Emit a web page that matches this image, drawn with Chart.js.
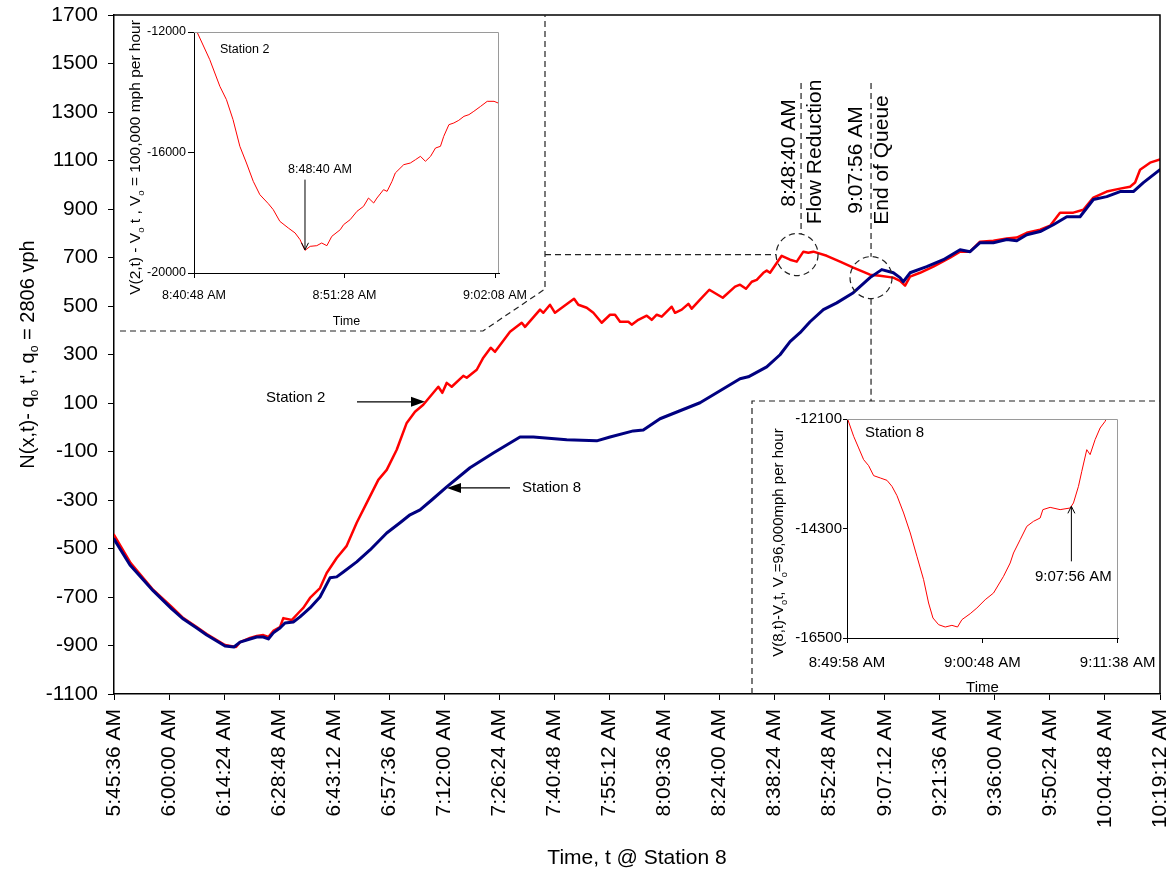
<!DOCTYPE html>
<html>
<head>
<meta charset="utf-8">
<title>Cumulative count curves, Station 2 and Station 8</title>
<script src="https://cdn.jsdelivr.net/npm/chart.js@4.4.1/dist/chart.umd.min.js"></script>
<style>
  html, body { margin: 0; padding: 0; background: #fff; }
  #wrap { position: relative; width: 1168px; height: 880px; }
  #wrap canvas { position: absolute; }
</style>
</head>
<body>
<div id="wrap">
  <canvas id="main"></canvas>
  <canvas id="inset2"></canvas>
  <canvas id="inset8"></canvas>
</div>
<script>
// ---------- main chart: N(x,t) - q0 t' against time at Station 8 ----------
const mainTickTimes = ['5:45:36', '6:00:00', '6:14:24', '6:28:48', '6:43:12', '6:57:36', '7:12:00',
  '7:26:24', '7:40:48', '7:55:12', '8:09:36', '8:24:00', '8:38:24', '8:52:48', '9:07:12', '9:21:36',
  '9:36:00', '9:50:24', '10:04:48', '10:19:12'];
const mainYTicks = [-1100, -900, -700, -500, -300, -100, 100, 300, 500, 700, 900, 1100, 1300, 1500, 1700];

const station2Times = [
  '5:45:36', '5:49:58', '5:55:53', '6:00:42', '6:03:44', '6:07:14', '6:09:51', '6:13:20', '6:14:38', '6:17:31',
  '6:18:34', '6:21:11', '6:22:56', '6:24:39', '6:25:58', '6:27:16', '6:29:01', '6:29:53', '6:32:05', '6:33:49',
  '6:35:07', '6:36:52', '6:39:29', '6:41:14', '6:43:51', '6:46:28', '6:49:05', '6:51:42', '6:54:44', '6:56:56',
  '6:59:33', '7:02:10', '7:04:20', '7:06:30', '7:09:07', '7:10:26', '7:11:29', '7:12:38', '7:13:56', '7:16:58',
  '7:17:52', '7:20:29', '7:22:12', '7:24:08', '7:25:16', '7:29:11', '7:32:15', '7:33:07', '7:37:02', '7:37:54',
  '7:39:39', '7:40:57', '7:45:56', '7:47:03', '7:49:15', '7:50:59', '7:53:10', '7:55:21', '7:56:39', '7:57:58',
  '8:00:08', '8:01:01', '8:02:45', '8:04:57', '8:06:15', '8:07:34', '8:08:52', '8:11:29', '8:12:21', '8:14:06',
  '8:15:50', '8:16:43', '8:18:53', '8:21:19', '8:24:50', '8:28:03', '8:29:21', '8:30:55', '8:32:25', '8:33:43',
  '8:35:27', '8:36:20', '8:37:12', '8:40:15', '8:42:26', '8:44:11', '8:45:55', '8:47:13', '8:48:32', '8:52:02',
  '8:55:31', '8:58:59', '9:03:21', '9:05:58', '9:09:27', '9:11:12', '9:12:31', '9:13:49', '9:16:26', '9:19:55',
  '9:24:17', '9:26:54', '9:29:31', '9:32:08', '9:35:37', '9:39:07', '9:41:44', '9:44:21', '9:47:50', '9:50:27',
  '9:53:03', '9:56:32', '9:59:09', '10:01:46', '10:05:16', '10:08:45', '10:11:22', '10:12:41', '10:13:59', '10:16:36',
  '10:19:12'];
const station2Counts = [
  -444, -560, -671, -741, -787, -824, -853, -886, -898, -906,
  -886, -869, -861, -857, -865, -840, -824, -787, -795, -766,
  -745, -704, -663, -601, -539, -489, -394, -312, -217, -176,
  -93, 18, 64, 93, 142, 167, 142, 183, 167, 212,
  204, 237, 287, 328, 311, 394, 431, 414, 485, 472,
  505, 472, 530, 505, 493, 472, 431, 464, 464, 435,
  435, 423, 443, 460, 443, 464, 456, 497, 472, 485,
  509, 489, 526, 567, 534, 580, 588, 571, 600, 608,
  637, 646, 637, 707, 691, 683, 724, 720, 724, 707,
  683, 658, 629, 625, 617, 604, 584, 621, 637, 662,
  699, 724, 724, 765, 769, 778, 782, 802, 815, 831,
  885, 885, 897, 947, 972, 984, 992, 1009, 1062, 1091,
  1104];

const station8Times = [
  '5:45:36', '5:49:47', '5:55:53', '6:00:42', '6:03:44', '6:07:14', '6:09:51', '6:13:20', '6:14:38', '6:16:59',
  '6:18:34', '6:21:11', '6:22:56', '6:24:39', '6:25:58', '6:27:16', '6:29:01', '6:30:20', '6:32:30', '6:34:15',
  '6:36:52', '6:39:29', '6:42:06', '6:43:51', '6:45:35', '6:49:05', '6:52:34', '6:56:56', '7:00:25', '7:03:02',
  '7:05:39', '7:08:42', '7:12:38', '7:18:43', '7:24:49', '7:31:48', '7:35:17', '7:44:01', '7:51:52', '7:55:21',
  '8:01:26', '8:04:03', '8:08:25', '8:13:39', '8:18:53', '8:23:15', '8:29:21', '8:31:31', '8:36:20', '8:39:49',
  '8:42:26', '8:45:03', '8:47:40', '8:51:09', '8:54:39', '8:58:59', '9:03:21', '9:06:25', '9:09:27', '9:11:12',
  '9:12:04', '9:13:49', '9:18:11', '9:22:32', '9:26:54', '9:29:31', '9:32:08', '9:35:37', '9:39:07', '9:41:44',
  '9:44:21', '9:47:50', '9:51:18', '9:54:49', '9:58:17', '10:01:46', '10:05:16', '10:08:45', '10:12:14', '10:14:51',
  '10:19:12'];
const station8Counts = [
  -461, -568, -675, -749, -791, -828, -857, -890, -902, -906,
  -886, -873, -865, -865, -873, -848, -828, -807, -803, -782,
  -745, -700, -621, -617, -597, -555, -506, -436, -394, -361,
  -341, -300, -246, -167, -106, -40, -40, -52, -56, -40,
  -15, -11, 35, 68, 101, 142, 200, 208, 249, 299,
  353, 390, 435, 485, 513, 555, 617, 650, 637, 617,
  600, 637, 662, 691, 732, 724, 761, 761, 774, 769,
  794, 807, 835, 868, 868, 939, 951, 972, 972, 1009,
  1062];

// circled events on the main chart (position on the Station 8 time axis)
const flowReduction = { time: '8:44:16', value: 712, label: '8:48:40 AM', caption: 'Flow Reduction' };
const endOfQueue = { time: '9:03:37', value: 617, label: '9:07:56 AM', caption: 'End of Queue' };
// where the "Station 2" / "Station 8" pointers touch their curves
const station2Pointer = { time: '7:06:57', value: 105 };
const station8Pointer = { time: '7:12:42', value: -250 };

// ---------- inset: Station 2 oblique curve ----------
const inset2TickTimes = ['8:40:48', '8:51:28', '9:02:08'];
const inset2YTicks = [-20000, -16000, -12000];
const inset2Times = ['8:41:01', '8:41:55', '8:42:38', '8:43:06', '8:43:34', '8:44:03', '8:44:31', '8:45:00',
  '8:45:28', '8:46:04', '8:46:25', '8:46:53', '8:47:29', '8:47:58', '8:48:19', '8:48:40', '8:49:02', '8:49:30',
  '8:49:51', '8:50:13', '8:50:34', '8:51:10', '8:51:24', '8:51:52', '8:52:21', '8:52:49', '8:53:10', '8:53:32',
  '8:53:46', '8:54:14', '8:54:29', '8:54:50', '8:55:04', '8:55:40', '8:56:08', '8:56:30', '8:56:51', '8:57:12',
  '8:57:34', '8:57:55', '8:58:16', '8:58:30', '8:58:52', '8:59:13', '8:59:34', '8:59:56', '9:00:17', '9:00:38',
  '9:01:07', '9:01:35', '9:02:04', '9:02:28'];
const inset2Values = [-12000, -12918, -13804, -14246, -14910, -15795, -16349, -16957,
  -17400, -17698, -17897, -18285, -18506, -18672, -18893, -19248, -19115, -19093,
  -19004, -19093, -18783, -18562, -18396, -18230, -17953, -17787, -17511, -17677,
  -17511, -17234, -17290, -16957, -16680, -16404, -16349, -16238, -16127, -16293,
  -16127, -15851, -15795, -15463, -15076, -15020, -14932, -14799, -14744, -14633,
  -14467, -14301, -14301, -14379];
const inset2Pointer = { time: '8:48:40', tail: -16900, tip: -19230, label: '8:48:40 AM' };

// ---------- inset: Station 8 oblique curve ----------
const inset8TickTimes = ['8:49:58', '9:00:48', '9:11:38'];
const inset8YTicks = [-16500, -14300, -12100];
const inset8Times = ['8:50:01', '8:50:30', '8:50:54', '8:51:18', '8:51:42', '8:52:06', '8:52:38', '8:53:10',
  '8:53:34', '8:53:58', '8:54:30', '8:55:02', '8:55:34', '8:56:06', '8:56:30', '8:56:51', '8:57:18', '8:57:50',
  '8:58:22', '8:58:49', '8:59:10', '8:59:50', '9:00:22', '9:01:02', '9:01:42', '9:02:30', '9:03:02', '9:03:18',
  '9:03:50', '9:04:22', '9:04:54', '9:05:26', '9:05:39', '9:06:14', '9:07:02', '9:07:50', '9:08:06', '9:08:30',
  '9:08:46', '9:09:10', '9:09:26', '9:09:50', '9:10:14', '9:10:38', '9:10:49'];
const inset8Values = [-12100, -12448, -12682, -12917, -13038, -13238, -13285, -13332,
  -13453, -13640, -13988, -14390, -14859, -15328, -15797, -16098, -16232, -16279,
  -16246, -16279, -16132, -16011, -15897, -15730, -15596, -15261, -14993, -14792,
  -14524, -14256, -14156, -14089, -13921, -13875, -13921, -13888, -13787, -13453,
  -13151, -12716, -12816, -12515, -12281, -12147, -12046];
const inset8Pointer = { time: '9:07:56', tail: -14960, tip: -13855, label: '9:07:56 AM' };

// ---------- helpers ----------
const FONT = "'Liberation Sans', Arial, Helvetica, sans-serif";

function toSec(t) { const p = t.split(':').map(Number); return p[0] * 3600 + p[1] * 60 + p[2]; }
function clock(v) {
  v = Math.round(v);
  const h = Math.floor(v / 3600), m = Math.floor((v % 3600) / 60), s = v % 60;
  return h + ':' + String(m).padStart(2, '0') + ':' + String(s).padStart(2, '0') + ' AM';
}
function plain(v) { return String(v); }
function pts(times, vals) { return times.map((t, i) => ({ x: toSec(t), y: vals[i] })); }
function fixedTicks(values) { return s => { s.ticks = values.map(v => ({ value: v })); }; }

// text with subscript parts, centred on (x, y), optionally rotated to read upwards
function drawRich(ctx, parts, x, y, size, family, rotate) {
  ctx.save();
  ctx.translate(x, y);
  if (rotate) ctx.rotate(-Math.PI / 2);
  ctx.textAlign = 'left';
  ctx.textBaseline = 'alphabetic';
  ctx.fillStyle = '#000';
  const widths = parts.map(([t, sub]) => { ctx.font = (sub ? size * 0.62 : size) + 'px ' + family; return ctx.measureText(t).width; });
  let cx = -widths.reduce((a, b) => a + b, 0) / 2;
  parts.forEach(([t, sub], i) => {
    ctx.font = (sub ? size * 0.62 : size) + 'px ' + family;
    ctx.fillText(t, cx, size * 0.35 + (sub ? size * 0.22 : 0));
    cx += widths[i];
  });
  ctx.restore();
}
function rotatedText(ctx, text, x, y, font) {
  ctx.save();
  ctx.translate(x, y);
  ctx.rotate(-Math.PI / 2);
  ctx.font = font; ctx.fillStyle = '#000';
  ctx.textAlign = 'center'; ctx.textBaseline = 'middle';
  ctx.fillText(text, 0, 0);
  ctx.restore();
}
function filledArrow(ctx, x1, y1, x2, y2, len, half) {
  const a = Math.atan2(y2 - y1, x2 - x1), c = Math.cos(a), s = Math.sin(a);
  ctx.beginPath(); ctx.moveTo(x1, y1); ctx.lineTo(x2 - c * len * 0.8, y2 - s * len * 0.8); ctx.stroke();
  ctx.beginPath(); ctx.moveTo(x2, y2);
  ctx.lineTo(x2 - c * len + s * half, y2 - s * len - c * half);
  ctx.lineTo(x2 - c * len - s * half, y2 - s * len + c * half);
  ctx.closePath(); ctx.fill();
}
function openArrow(ctx, x1, y1, x2, y2, len, half) {
  const a = Math.atan2(y2 - y1, x2 - x1), c = Math.cos(a), s = Math.sin(a);
  ctx.beginPath(); ctx.moveTo(x1, y1); ctx.lineTo(x2, y2);
  ctx.moveTo(x2 - c * len + s * half, y2 - s * len - c * half); ctx.lineTo(x2, y2);
  ctx.lineTo(x2 - c * len - s * half, y2 - s * len + c * half);
  ctx.stroke();
}

// placement of the two inset panels on the page
const INSET2 = { left: 116, top: 16, width: 426, height: 312 };
const INSET8 = { left: 754, top: 403, width: 404, height: 290 };

const mainCanvas = document.getElementById('main');
mainCanvas.width = 1168; mainCanvas.height = 880;
mainCanvas.style.left = '0px'; mainCanvas.style.top = '0px';
[['inset2', INSET2], ['inset8', INSET8]].forEach(([id, b]) => {
  const c = document.getElementById(id);
  c.width = b.width; c.height = b.height;
  c.style.left = b.left + 'px'; c.style.top = b.top + 'px';
});

// ---------- main chart decorations ----------
const mainDecor = {
  id: 'mainDecor',
  afterDatasetsDraw(chart) {
    const { ctx, chartArea: a, scales: { x, y } } = chart;
    ctx.save();
    // top and right edges of the plot frame
    ctx.strokeStyle = '#000'; ctx.lineWidth = 1.5;
    ctx.beginPath(); ctx.moveTo(a.left, a.top); ctx.lineTo(a.right, a.top); ctx.lineTo(a.right, a.bottom); ctx.stroke();

    // dashed call-outs
    ctx.strokeStyle = '#222'; ctx.lineWidth = 1.2; ctx.setLineDash([6, 4]);
    const r = 21;
    const fx = x.getPixelForValue(toSec(flowReduction.time)), fy = y.getPixelForValue(flowReduction.value);
    const ex = x.getPixelForValue(toSec(endOfQueue.time)), ey = y.getPixelForValue(endOfQueue.value);
    const leaderTop = y.getPixelForValue(1420);
    ctx.beginPath(); ctx.arc(fx, fy, r, 0, Math.PI * 2); ctx.stroke();
    ctx.beginPath(); ctx.arc(ex, ey, r, 0, Math.PI * 2); ctx.stroke();
    ctx.beginPath();
    ctx.moveTo(fx + 4, leaderTop); ctx.lineTo(fx + 4, fy - Math.sqrt(r * r - 16));
    ctx.moveTo(ex, leaderTop); ctx.lineTo(ex, ey - r);
    ctx.moveTo(ex, ey + r); ctx.lineTo(ex, INSET8.top - 2);
    const r2 = INSET2.left + INSET2.width, b2 = INSET2.top + INSET2.height;
    ctx.moveTo(r2 + 3, fy); ctx.lineTo(fx - r, fy);
    // outline around the Station 2 inset
    ctx.moveTo(a.left + 6, b2 + 3); ctx.lineTo(r2 - 59, b2 + 3); ctx.lineTo(r2 + 3, b2 - 39); ctx.lineTo(r2 + 3, a.top);
    // outline around the Station 8 inset
    ctx.moveTo(INSET8.left - 2, a.bottom); ctx.lineTo(INSET8.left - 2, INSET8.top - 2); ctx.lineTo(a.right, INSET8.top - 2);
    ctx.stroke();
    ctx.setLineDash([]);

    // event labels
    const big = '21px ' + FONT;
    rotatedText(ctx, flowReduction.label, fx - 8, 153, big);
    rotatedText(ctx, flowReduction.caption, fx + 18.5, 152, big);
    rotatedText(ctx, endOfQueue.label, ex - 15, 160, big);
    rotatedText(ctx, endOfQueue.caption, ex + 11.5, 160, big);

    // station pointers
    ctx.fillStyle = '#000'; ctx.strokeStyle = '#000'; ctx.lineWidth = 1.2;
    const s2x = x.getPixelForValue(toSec(station2Pointer.time)), s2y = y.getPixelForValue(station2Pointer.value);
    filledArrow(ctx, s2x - 68, s2y, s2x, s2y, 14, 5);
    const s8x = x.getPixelForValue(toSec(station8Pointer.time)), s8y = y.getPixelForValue(station8Pointer.value);
    filledArrow(ctx, s8x + 63, s8y, s8x, s8y, 14, 5);
    ctx.font = '15px ' + FONT; ctx.textBaseline = 'middle'; ctx.textAlign = 'left';
    ctx.fillText('Station 2', s2x - 159, s2y - 4);
    ctx.fillText('Station 8', s8x + 75, s8y);

    // axis titles
    ctx.font = '21px ' + FONT; ctx.textAlign = 'center';
    ctx.fillText('Time, t @ Station 8', (a.left + a.right) / 2, 858);
    drawRich(ctx, [['N(x,t)- q'], ['o', 1], [" t', q"], ['o', 1], [' = 2806 vph']], 27, (a.top + a.bottom) / 2, 20, FONT, true);
    ctx.restore();
  }
};

new Chart(mainCanvas, {
  type: 'line',
  data: {
    datasets: [
      { label: 'Station 8', data: pts(station8Times, station8Counts), borderColor: '#000080', borderWidth: 3, pointRadius: 0, order: 0 },
      { label: 'Station 2', data: pts(station2Times, station2Counts), borderColor: '#ff0000', borderWidth: 2.5, pointRadius: 0, order: 1 }
    ]
  },
  options: {
    responsive: false, animation: false, devicePixelRatio: 1,
    layout: { padding: { top: 15, right: 8, left: 0, bottom: 0 } },
    plugins: { legend: { display: false }, tooltip: { enabled: false } },
    elements: { line: { tension: 0, borderJoinStyle: 'round', borderCapStyle: 'round' } },
    scales: {
      x: {
        type: 'linear',
        min: toSec(mainTickTimes[0]), max: toSec(mainTickTimes[mainTickTimes.length - 1]),
        afterBuildTicks: fixedTicks(mainTickTimes.map(toSec)),
        afterFit: s => { s.height = 186; s.paddingLeft = 0; s.paddingRight = 0; },
        ticks: { callback: v => clock(v), autoSkip: false, minRotation: 90, maxRotation: 90, padding: 9, color: '#000', font: { family: FONT, size: 21 } },
        grid: { drawOnChartArea: false, drawTicks: true, tickLength: 6, color: '#000', lineWidth: 1 },
        border: { display: true, color: '#000', width: 1.5 }
      },
      y: {
        min: -1100, max: 1700,
        afterBuildTicks: fixedTicks(mainYTicks),
        afterFit: s => { s.width = 114; s.paddingTop = 0; s.paddingBottom = 0; },
        ticks: { callback: plain, padding: 10, color: '#000', font: { family: FONT, size: 21 } },
        grid: { drawOnChartArea: false, drawTicks: true, tickLength: 6, color: '#000', lineWidth: 1 },
        border: { display: true, color: '#000', width: 1.5 }
      }
    }
  },
  plugins: [mainDecor]
});

// ---------- inset panels ----------
function makeInset(id, o) {
  const decor = {
    id: 'insetDecor',
    afterDatasetsDraw(chart) {
      const { ctx, chartArea: a, scales: { x, y } } = chart;
      ctx.save();
      ctx.strokeStyle = '#9a9a9a'; ctx.lineWidth = 1;
      ctx.beginPath(); ctx.moveTo(a.left, a.top + 0.5); ctx.lineTo(a.right - 0.5, a.top + 0.5); ctx.lineTo(a.right - 0.5, a.bottom); ctx.stroke();
      ctx.fillStyle = '#000'; ctx.font = o.fontSize + 'px ' + FONT;
      ctx.textAlign = 'left'; ctx.textBaseline = 'middle';
      ctx.fillText(o.station, a.left + o.stationDx, a.top + o.stationDy);
      const px = x.getPixelForValue(toSec(o.pointer.time));
      const tailY = y.getPixelForValue(o.pointer.tail), tipY = y.getPixelForValue(o.pointer.tip);
      ctx.strokeStyle = '#000'; ctx.lineWidth = 1;
      openArrow(ctx, px, tailY, px, tipY, 7, 3.5);
      ctx.textAlign = 'center';
      ctx.fillText(o.pointer.label, px + o.labelDx, tailY + o.labelDy);
      ctx.fillText('Time', (a.left + a.right) / 2, a.bottom + o.timeDy);
      drawRich(ctx, o.yTitle, o.yTitleX, (a.top + a.bottom) / 2 + o.yTitleDy, o.titleSize, FONT, true);
      ctx.restore();
    }
  };
  return new Chart(document.getElementById(id), {
    type: 'line',
    data: { datasets: [{ data: o.data, borderColor: '#ff0000', borderWidth: 1, pointRadius: 0 }] },
    options: {
      responsive: false, animation: false, devicePixelRatio: 1,
      layout: { padding: { top: o.padTop, right: o.padRight, left: 0, bottom: 0 } },
      plugins: { legend: { display: false }, tooltip: { enabled: false } },
      elements: { line: { tension: 0, borderJoinStyle: 'round' } },
      scales: {
        x: {
          type: 'linear', min: o.xMin, max: o.xMax,
          afterBuildTicks: fixedTicks(o.xTicks),
          afterFit: s => { s.height = o.xHeight; s.paddingLeft = 0; s.paddingRight = 0; },
          ticks: { callback: v => clock(v), autoSkip: false, minRotation: 0, maxRotation: 0, padding: o.xPad, color: '#000', font: { family: FONT, size: o.fontSize } },
          grid: { drawOnChartArea: false, drawTicks: true, tickLength: 5, color: '#000', lineWidth: 1 },
          border: { display: true, color: '#000', width: 1 }
        },
        y: {
          min: o.yMin, max: o.yMax,
          afterBuildTicks: fixedTicks(o.yTicks),
          afterFit: s => { s.width = o.yWidth; s.paddingTop = 0; s.paddingBottom = 0; },
          ticks: { callback: plain, padding: o.yPad, color: '#000', font: { family: FONT, size: o.fontSize } },
          grid: { drawOnChartArea: false, drawTicks: true, tickLength: o.yTick, color: '#000', lineWidth: 1 },
          border: { display: true, color: '#000', width: 1 }
        }
      }
    },
    plugins: [decor]
  });
}

makeInset('inset2', {
  data: pts(inset2Times, inset2Values),
  xMin: toSec(inset2TickTimes[0]), xMax: toSec('9:02:25'), xTicks: inset2TickTimes.map(toSec),
  yMin: -20000, yMax: -12000, yTicks: inset2YTicks,
  fontSize: 12.5, titleSize: 15.5,
  padTop: 16, padRight: 43, yWidth: 78, xHeight: 55, xPad: 10, yPad: 2, yTick: 6,
  station: 'Station 2', stationDx: 26, stationDy: 18,
  pointer: inset2Pointer, labelDx: 15, labelDy: -10,
  timeDy: 49,
  yTitle: [['V(2,t) - V'], ['o', 1], [' t , V'], ['o', 1], [' = 100,000 mph per hour']], yTitleX: 19, yTitleDy: 5
});

makeInset('inset8', {
  data: pts(inset8Times, inset8Values),
  xMin: toSec(inset8TickTimes[0]), xMax: toSec('9:11:40'), xTicks: inset8TickTimes.map(toSec),
  yMin: -16500, yMax: -12100, yTicks: inset8YTicks,
  fontSize: 15, titleSize: 15,
  padTop: 16, padRight: 40, yWidth: 93, xHeight: 55, xPad: 11, yPad: 1, yTick: 4,
  station: 'Station 8', stationDx: 18, stationDy: 14,
  pointer: inset8Pointer, labelDx: 2, labelDy: 16,
  timeDy: 50,
  yTitle: [['V(8,t)-V'], ['o', 1], ['t, V'], ['o', 1], ['=96,000mph per hour']], yTitleX: 24, yTitleDy: 14
});
</script>
</body>
</html>
